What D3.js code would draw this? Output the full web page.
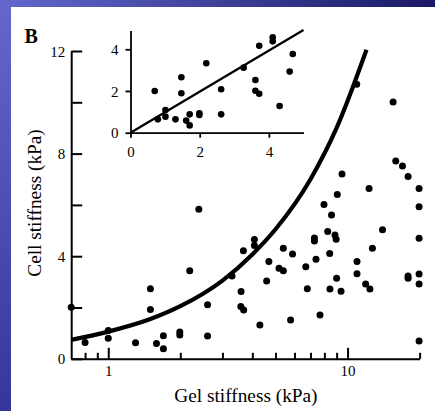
<!DOCTYPE html>
<html>
<head>
<meta charset="utf-8">
<script src="https://cdn.jsdelivr.net/npm/d3@7"></script>
<style>
  body { margin: 0; background: #fff; }
  svg text { font-family: "Liberation Serif", "Times New Roman", serif; fill: #000; }
</style>
</head>
<body>
<div id="chart"></div>
<script>
const width = 435;
const height = 411;

// main panel: gel stiffness (kPa) vs cell stiffness (kPa)
const gelMain = [0.70, 0.80, 1.0, 1.0, 1.30, 1.50, 1.50, 1.59, 1.70, 1.70, 1.99, 1.99, 2.19, 2.39, 2.60, 2.60,
  3.29, 3.67, 3.59, 3.58, 3.68, 4.08, 4.08, 4.30, 4.59, 4.69, 5.17, 5.39, 5.39, 5.78, 5.89, 6.69, 6.79,
  7.27, 7.27, 7.38, 7.67, 7.97, 8.26, 8.42, 8.57, 8.44, 8.86, 8.96, 9.06, 9.0, 9.39, 9.48,
  10.95, 10.95, 10.92, 11.9, 12.4, 12.3, 12.7, 14.0, 15.5, 15.9, 16.96, 17.9, 17.9, 17.9,
  19.9, 19.9, 19.9, 19.9, 19.9, 19.9];
const cellMain = [2.01, 0.64, 1.10, 0.80, 0.63, 2.73, 1.92, 0.60, 0.90, 0.39, 1.04, 0.93, 3.43, 5.83, 2.11, 0.89,
  3.23, 4.21, 2.62, 2.04, 1.90, 4.65, 4.42, 1.32, 3.03, 3.79, 3.53, 3.43, 4.31, 1.51, 4.09, 3.59, 2.73,
  4.71, 4.59, 3.88, 1.71, 6.02, 4.96, 4.11, 5.61, 2.72, 4.83, 4.66, 6.41, 3.14, 2.63, 7.20,
  3.79, 3.32, 10.70, 2.92, 2.72, 6.64, 4.31, 5.03, 10.01, 7.71, 7.52, 7.11, 3.23, 3.14,
  6.64, 5.93, 4.70, 3.31, 2.92, 0.69];

// fitted curve, points
const fitGel = [0.7, 1, 1.5, 2, 3, 4, 5, 7, 9, 12];
const fitCell = [0.74, 1.06, 1.55, 2.05, 3.05, 4.07, 5.05, 7.0, 9.0, 12.05];

// inset: linear axes, gel < 5 kPa
const gelInset = [0.70, 0.79, 1.01, 1.01, 1.30, 1.47, 1.47, 1.61, 1.71, 1.71, 1.99, 1.99, 2.19, 2.62, 2.62,
  3.27, 3.61, 3.61, 3.72, 3.72, 4.11, 4.11, 4.31, 4.60, 4.69];
const cellInset = [2.0, 0.64, 1.09, 0.77, 0.64, 2.66, 1.89, 0.58, 0.35, 0.88, 0.93, 0.85, 3.33, 2.08, 0.88,
  3.12, 2.53, 2.01, 1.87, 4.17, 4.57, 4.38, 1.28, 2.93, 3.77];
const insetFitGel = [0, 5];
const insetFitCell = [0, 4.92];

const xMajor = [1, 10];
const xMinor = [0.8, 0.9, 2, 3, 4, 5, 6, 7, 8, 9, 20];
const yTicks = [0, 2, 4, 6, 8, 10, 12];
const yLabels = [0, 4, 8, 12];
const insetTicks = [0, 2, 4];

const svg = d3.select('#chart').append('svg')
    .attr('width', width)
    .attr('height', height);

const defs = svg.append('defs');
const gTop = defs.append('linearGradient').attr('id', 'gTop')
    .attr('x1', 0).attr('y1', 0).attr('x2', 1).attr('y2', 0);
gTop.append('stop').attr('offset', 0).attr('stop-color', '#6468cd');
gTop.append('stop').attr('offset', 1).attr('stop-color', '#191966');
const gLeft = defs.append('linearGradient').attr('id', 'gLeft')
    .attr('x1', 0).attr('y1', 0).attr('x2', 0).attr('y2', 1);
gLeft.append('stop').attr('offset', 0).attr('stop-color', '#6468cd');
gLeft.append('stop').attr('offset', 1).attr('stop-color', '#33369a');

svg.append('rect').attr('width', width).attr('height', height).attr('fill', '#fff');
svg.append('rect').attr('x', 0).attr('y', 0).attr('width', 11).attr('height', height).attr('fill', 'url(#gLeft)');
svg.append('rect').attr('x', 0).attr('y', 0).attr('width', width).attr('height', 7).attr('fill', 'url(#gTop)');

// ---- main plot ----
const x = d3.scaleLog().domain([0.7, 20]).range([71.2, 419.6]);
const y = d3.scaleLinear().domain([0, 12]).range([358.8, 51]);

const xAxisMajor = svg.append('g')
    .attr('transform', `translate(0,${y(0)})`)
    .call(d3.axisBottom(x).tickValues(xMajor).tickSize(-11).tickSizeOuter(0).tickPadding(7)
        .tickFormat(d3.format('d')));
const xAxisMinor = svg.append('g')
    .attr('transform', `translate(0,${y(0)})`)
    .call(d3.axisBottom(x).tickValues(xMinor).tickSize(-6).tickSizeOuter(0).tickFormat(''));
xAxisMinor.select('.domain').remove();

const yAxis = svg.append('g')
    .attr('transform', `translate(${x(0.7)},0)`)
    .call(d3.axisLeft(y).tickValues(yTicks).tickSize(-11).tickSizeOuter(0).tickPadding(6)
        .tickFormat(d => yLabels.includes(d) ? d : ''));

[xAxisMajor, xAxisMinor, yAxis].forEach(a => {
    a.selectAll('path, line').attr('stroke', '#000').attr('stroke-width', 2);
    a.selectAll('text').style('font-size', '15px');
});
yAxis.selectAll('text').attr('dy', '0.34em');

svg.append('text')
    .attr('x', (x(0.7) + x(20)) / 2 + 0.5)
    .attr('y', 401.5)
    .attr('text-anchor', 'middle')
    .style('font-size', '19.3px')
    .text('Gel stiffness (kPa)');

svg.append('text')
    .attr('transform', 'translate(41,203) rotate(-90)')
    .attr('text-anchor', 'middle')
    .style('font-size', '19.3px')
    .text('Cell stiffness (kPa)');

svg.append('text')
    .attr('x', 24.5)
    .attr('y', 43.3)
    .style('font-size', '20px')
    .style('font-weight', 'bold')
    .text('B');

const line = d3.line().curve(d3.curveMonotoneX);
svg.append('path')
    .attr('d', line(fitGel.map((g, i) => [x(g), y(fitCell[i])])))
    .attr('fill', 'none')
    .attr('stroke', '#000')
    .attr('stroke-width', 4.2);

svg.append('g').selectAll('circle')
    .data(gelMain.map((g, i) => ({ g: g, c: cellMain[i] })))
    .join('circle')
    .attr('cx', d => x(d.g))
    .attr('cy', d => y(d.c))
    .attr('r', 3.5)
    .attr('fill', '#000');

// ---- inset ----
const xi = d3.scaleLinear().domain([0, 5]).range([130.5, 303.5]);
const yi = d3.scaleLinear().domain([0, 4.9]).range([132.7, 30.5]);

const xiAxis = svg.append('g')
    .attr('transform', `translate(0,${yi(0)})`)
    .call(d3.axisBottom(xi).tickValues(insetTicks).tickSize(5).tickSizeOuter(0).tickPadding(9)
        .tickFormat(d3.format('d')));
const yiAxis = svg.append('g')
    .attr('transform', `translate(${xi(0)},0)`)
    .call(d3.axisLeft(yi).tickValues(insetTicks).tickSize(5).tickSizeOuter(0).tickPadding(7)
        .tickFormat(d3.format('d')));

[xiAxis, yiAxis].forEach(a => {
    a.selectAll('path, line').attr('stroke', '#000').attr('stroke-width', 1.8);
    a.selectAll('text').style('font-size', '15px');
});
yiAxis.selectAll('text').attr('dy', '0.34em');

svg.append('path')
    .attr('d', d3.line()(insetFitGel.map((g, i) => [xi(g), yi(insetFitCell[i])])))
    .attr('fill', 'none')
    .attr('stroke', '#000')
    .attr('stroke-width', 2.3);

svg.append('g').selectAll('circle')
    .data(gelInset.map((g, i) => ({ g: g, c: cellInset[i] })))
    .join('circle')
    .attr('cx', d => xi(d.g))
    .attr('cy', d => yi(d.c))
    .attr('r', 3.3)
    .attr('fill', '#000');
</script>
</body>
</html>
